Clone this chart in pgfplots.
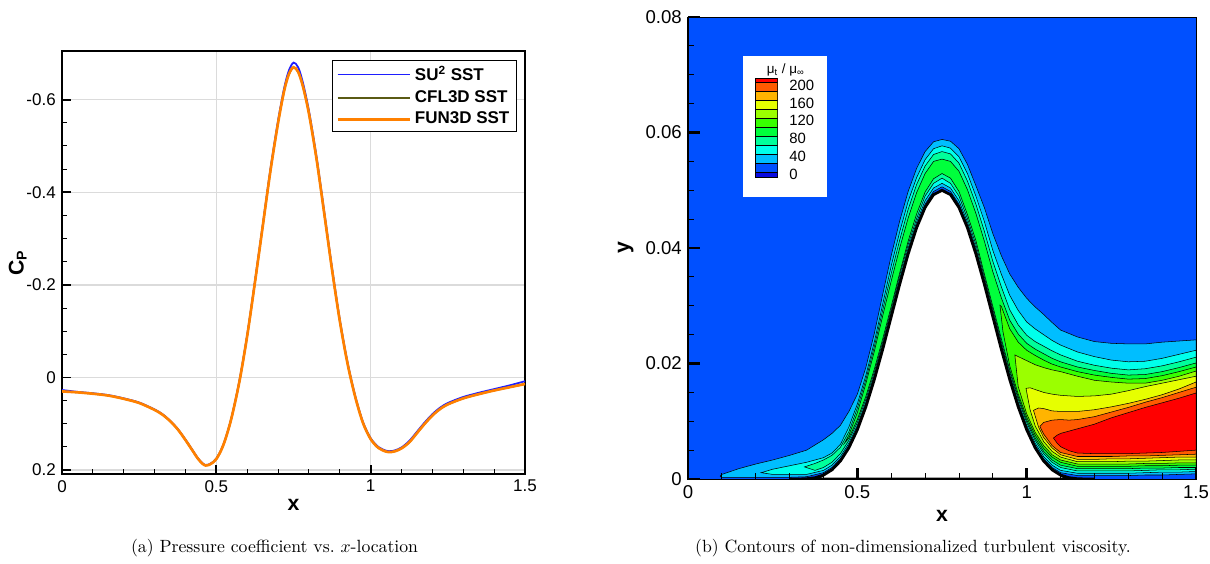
\documentclass[border=0pt]{standalone}
\usepackage{fontspec}
\usepackage{pgfplots}
\pgfplotsset{compat=1.18}
\newfontfamily\arial{Liberation Sans}
\definecolor{cpblue}{HTML}{1E1EFF}
\definecolor{cpolive}{HTML}{5A5A14}
\definecolor{cporange}{HTML}{FF8000}
\definecolor{bgblue}{HTML}{0050FF}
\definecolor{dkblue}{HTML}{0A0AE0}
\definecolor{c20}{HTML}{00BEFF}
\definecolor{c40}{HTML}{00FFEB}
\definecolor{c60}{HTML}{00FF9B}
\definecolor{c80}{HTML}{00FF3C}
\definecolor{c100}{HTML}{37FF00}
\definecolor{c120}{HTML}{9BFF00}
\definecolor{c140}{HTML}{E6FF00}
\definecolor{c160}{HTML}{FFB400}
\definecolor{c180}{HTML}{FF5A00}
\definecolor{c200}{HTML}{FF0000}
\begin{document}
\begin{tikzpicture}
\path[use as bounding box] (0,0) rectangle (683.6pt,318.1pt);
% ---------------- left: Cp ----------------
\begin{axis}[
  at={(35.03pt,50.28pt)}, anchor=south west, scale only axis,
  width=261.58pt, height=238.98pt,
  xmin=0, xmax=1.5, ymin=-0.705, ymax=0.2085, y dir=reverse,
  xtick={0,0.5,1,1.5}, xticklabels={0,0.5,1,1.5},
  ytick={-0.6,-0.4,-0.2,0,0.2}, yticklabels={-0.6,-0.4,-0.2,0,0.2},
  scaled ticks=false,
  minor x tick num=4, minor y tick num=3,
  tick align=inside, xtick pos=left, ytick pos=left,
  major tick length=5pt, minor tick length=3pt,
  every major tick/.append style={line width=1.1pt, black},
  every minor tick/.append style={line width=0.6pt, black},
  grid=major, major grid style={draw=black!14, line width=0.7pt},
  axis line style={line width=0.8pt},
  tick label style={font=\arial\fontsize{9.6}{11}\selectfont},
  xlabel={x}, ylabel={C\textsubscript{P}},
  label style={font=\arial\bfseries\fontsize{12}{13}\selectfont},
  ylabel shift=-7pt, xlabel shift=-3pt,
  legend style={at={(0.9827,0.9787)}, anchor=north east, draw=black, line width=0.6pt,
    font=\arial\bfseries\fontsize{9.6}{10}\selectfont, inner xsep=2pt, inner ysep=1pt,
    row sep=0pt, cells={anchor=west}},
  legend image code/.code={\draw[#1] (0pt,0pt) -- (41pt,0pt);},
]
\addplot[cpblue, line width=1.0pt, smooth] coordinates {
(0.000,0.027) (0.025,0.029) (0.050,0.031) (0.100,0.034) (0.150,0.038) (0.200,0.045)
(0.250,0.054) (0.300,0.069) (0.325,0.079) (0.350,0.093) (0.375,0.111) (0.400,0.134)
(0.425,0.159) (0.440,0.174) (0.455,0.185) (0.465,0.189) (0.475,0.188) (0.490,0.182)
(0.500,0.175) (0.515,0.157) (0.530,0.131) (0.550,0.084) (0.575,0.006) (0.600,-0.092)
(0.625,-0.208) (0.650,-0.328) (0.675,-0.449) (0.700,-0.555) (0.720,-0.626) (0.735,-0.663)
(0.750,-0.680) (0.765,-0.670) (0.780,-0.638) (0.800,-0.576) (0.825,-0.475) (0.850,-0.356)
(0.875,-0.236) (0.900,-0.125) (0.925,-0.033) (0.950,0.040) (0.975,0.096) (1.000,0.131)
(1.025,0.150) (1.050,0.158) (1.065,0.159) (1.080,0.157) (1.100,0.151) (1.125,0.137)
(1.150,0.117) (1.175,0.097) (1.200,0.079) (1.225,0.065) (1.250,0.055) (1.300,0.042)
(1.350,0.033) (1.400,0.025) (1.450,0.017) (1.500,0.008)};
\addlegendentry{SU\textsuperscript{2} SST}
\addplot[cpolive, line width=1.0pt, smooth] coordinates {
(0.000,0.030) (0.025,0.031) (0.050,0.032) (0.100,0.035) (0.150,0.039) (0.200,0.046)
(0.250,0.055) (0.300,0.070) (0.325,0.080) (0.350,0.094) (0.375,0.112) (0.400,0.135)
(0.425,0.160) (0.440,0.175) (0.455,0.186) (0.465,0.190) (0.475,0.189) (0.490,0.183)
(0.500,0.176) (0.515,0.158) (0.530,0.132) (0.550,0.085) (0.575,0.008) (0.600,-0.090)
(0.625,-0.205) (0.650,-0.325) (0.675,-0.445) (0.700,-0.550) (0.720,-0.620) (0.735,-0.655)
(0.750,-0.670) (0.765,-0.660) (0.780,-0.630) (0.800,-0.570) (0.825,-0.470) (0.850,-0.352)
(0.875,-0.232) (0.900,-0.122) (0.925,-0.030) (0.950,0.042) (0.975,0.098) (1.000,0.133)
(1.025,0.152) (1.050,0.160) (1.065,0.161) (1.080,0.159) (1.100,0.153) (1.125,0.140)
(1.150,0.120) (1.175,0.100) (1.200,0.082) (1.225,0.068) (1.250,0.058) (1.300,0.045)
(1.350,0.036) (1.400,0.028) (1.450,0.021) (1.500,0.014)};
\addlegendentry{CFL3D SST}
\addplot[cporange, line width=1.5pt, smooth] coordinates {
(0.000,0.030) (0.025,0.031) (0.050,0.032) (0.100,0.035) (0.150,0.039) (0.200,0.046)
(0.250,0.055) (0.300,0.070) (0.325,0.080) (0.350,0.094) (0.375,0.112) (0.400,0.135)
(0.425,0.160) (0.440,0.175) (0.455,0.186) (0.465,0.190) (0.475,0.189) (0.490,0.183)
(0.500,0.176) (0.515,0.158) (0.530,0.132) (0.550,0.085) (0.575,0.008) (0.600,-0.090)
(0.625,-0.205) (0.650,-0.325) (0.675,-0.445) (0.700,-0.550) (0.720,-0.620) (0.735,-0.655)
(0.750,-0.670) (0.765,-0.660) (0.780,-0.630) (0.800,-0.570) (0.825,-0.470) (0.850,-0.352)
(0.875,-0.232) (0.900,-0.122) (0.925,-0.030) (0.950,0.042) (0.975,0.098) (1.000,0.133)
(1.025,0.152) (1.050,0.160) (1.065,0.161) (1.080,0.159) (1.100,0.153) (1.125,0.140)
(1.150,0.120) (1.175,0.100) (1.200,0.082) (1.225,0.068) (1.250,0.058) (1.300,0.045)
(1.350,0.036) (1.400,0.028) (1.450,0.021) (1.500,0.014)};
\addlegendentry{FUN3D SST}
\end{axis}
% ---------------- right: contours ----------------
\begin{axis}[
  at={(388.70pt,47.46pt)}, anchor=south west, scale only axis,
  width=287.01pt, height=261.02pt,
  xmin=0, xmax=1.5, ymin=0, ymax=0.08,
  axis background/.style={fill=bgblue},
  axis on top,
  xtick={0,0.5,1,1.5}, xticklabels={0,0.5,1,1.5},
  ytick={0,0.02,0.04,0.06,0.08}, yticklabels={0,0.02,0.04,0.06,0.08},
  scaled ticks=false,
  minor x tick num=4, minor y tick num=3,
  tick align=inside, xtick pos=left, ytick pos=left,
  major tick length=6.5pt, minor tick length=3.6pt,
  every major tick/.append style={line width=1.6pt, black},
  every minor tick/.append style={line width=0.5pt, black},
  axis line style={line width=0.6pt},
  tick label style={font=\arial\fontsize{10.5}{12}\selectfont},
  xlabel={x}, ylabel={y},
  label style={font=\arial\bfseries\fontsize{12}{13}\selectfont},
]
% level 20
\addplot[fill=c20, draw=black, line width=0.3pt] coordinates {
(0.095,0.0005) (0.1,0.0008) (0.15,0.0018) (0.2,0.0026) (0.25,0.0033) (0.3,0.0041) (0.35,0.0050) (0.4,0.0068) (0.425,0.0079) (0.45,0.0093) (0.475,0.0117) (0.5,0.0147) (0.525,0.0193) (0.55,0.0252) (0.575,0.0320) (0.6,0.0387) (0.625,0.0447) (0.65,0.0498) (0.675,0.0538) (0.7,0.0567) (0.725,0.0584) (0.75,0.0588) (0.775,0.0585) (0.8,0.0572) (0.825,0.0545) (0.85,0.0508) (0.875,0.0470) (0.9,0.0425) (0.925,0.0387) (0.95,0.0355) (0.975,0.0332) (1,0.0313) (1.025,0.0298) (1.05,0.0285) (1.075,0.0271) (1.1,0.0258) (1.15,0.0246) (1.2,0.0238) (1.25,0.0235) (1.3,0.0234) (1.35,0.0234) (1.4,0.0237) (1.45,0.0239) (1.5,0.0241)
(1.5,0.0009) (1.45,0.0008) (1.4,0.0007) (1.35,0.0007) (1.3,0.0006) (1.25,0.0006) (1.2,0.0006) (1.15,0.0006) (1.1,0.0011) (1.075,0.0020) (1.05,0.0035) (1.025,0.0058) (1,0.0089) (0.975,0.0129) (0.95,0.0176) (0.925,0.0229) (0.9,0.0285) (0.875,0.0342) (0.85,0.0395) (0.825,0.0440) (0.8,0.0476) (0.775,0.0498) (0.75,0.0506) (0.725,0.0498) (0.7,0.0476) (0.675,0.0440) (0.65,0.0395) (0.625,0.0342) (0.6,0.0285) (0.575,0.0229) (0.55,0.0176) (0.525,0.0129) (0.5,0.0089) (0.475,0.0058) (0.45,0.0035) (0.425,0.0020) (0.4,0.0011) (0.35,0.0004) (0.3,0.0003) (0.2,0.0003) (0.1,0.0003)} -- cycle;
% level 40
\addplot[fill=c40, draw=black, line width=0.3pt] coordinates {
(0.216,0.0011) (0.25,0.0017) (0.3,0.0023) (0.35,0.0029) (0.4,0.0037) (0.425,0.0045) (0.45,0.0060) (0.475,0.0090) (0.5,0.0130) (0.525,0.0179) (0.55,0.0237) (0.575,0.0303) (0.6,0.0369) (0.625,0.0428) (0.65,0.0481) (0.675,0.0522) (0.7,0.0553) (0.725,0.0572) (0.75,0.0577) (0.775,0.0573) (0.8,0.0558) (0.825,0.0529) (0.85,0.0490) (0.875,0.0446) (0.9,0.0396) (0.925,0.0355) (0.95,0.0318) (0.975,0.0292) (1,0.0272) (1.025,0.0260) (1.05,0.0250) (1.075,0.0240) (1.1,0.0232) (1.15,0.0220) (1.2,0.0212) (1.25,0.0206) (1.3,0.0203) (1.35,0.0204) (1.4,0.0209) (1.45,0.0216) (1.5,0.0223)
(1.5,0.0013) (1.45,0.0012) (1.4,0.0012) (1.35,0.0011) (1.3,0.0010) (1.25,0.0010) (1.2,0.0010) (1.15,0.0010) (1.1,0.0015) (1.075,0.0024) (1.05,0.0039) (1.025,0.0062) (1,0.0093) (0.975,0.0133) (0.95,0.0180) (0.925,0.0233) (0.9,0.0289) (0.875,0.0345) (0.85,0.0400) (0.825,0.0445) (0.8,0.0482) (0.775,0.0504) (0.75,0.0512) (0.725,0.0504) (0.7,0.0482) (0.675,0.0445) (0.65,0.0400) (0.625,0.0347) (0.6,0.0289) (0.575,0.0233) (0.55,0.0180) (0.525,0.0133) (0.5,0.0093) (0.475,0.0062) (0.45,0.0039) (0.425,0.0024) (0.4,0.0015) (0.35,0.0008) (0.3,0.0008) (0.25,0.0008)} -- cycle;
% level 60
\addplot[fill=c60, draw=black, line width=0.3pt] coordinates {
(0.344,0.0021) (0.375,0.0027) (0.4,0.0033) (0.425,0.0041) (0.45,0.0055) (0.475,0.0082) (0.5,0.0123) (0.525,0.0172) (0.55,0.0229) (0.575,0.0293) (0.6,0.0356) (0.625,0.0414) (0.65,0.0467) (0.675,0.0510) (0.7,0.0542) (0.725,0.0562) (0.75,0.0567) (0.775,0.0563) (0.8,0.0547) (0.825,0.0516) (0.85,0.0476) (0.875,0.0429) (0.9,0.0377) (0.925,0.0333) (0.95,0.0293) (0.975,0.0267) (1,0.0249) (1.025,0.0238) (1.05,0.0230) (1.075,0.0222) (1.1,0.0215) (1.15,0.0204) (1.2,0.0197) (1.25,0.0192) (1.3,0.0189) (1.35,0.0191) (1.4,0.0196) (1.45,0.0203) (1.5,0.0211)
(1.5,0.0017) (1.45,0.0016) (1.4,0.0016) (1.35,0.0015) (1.3,0.0014) (1.25,0.0014) (1.2,0.0014) (1.15,0.0014) (1.1,0.0020) (1.075,0.0029) (1.05,0.0044) (1.025,0.0067) (1,0.0098) (0.975,0.0138) (0.95,0.0185) (0.925,0.0238) (0.9,0.0294) (0.875,0.0350) (0.85,0.0406) (0.825,0.0451) (0.8,0.0490) (0.775,0.0512) (0.75,0.0521) (0.725,0.0512) (0.7,0.0490) (0.675,0.0451) (0.65,0.0406) (0.625,0.0353) (0.6,0.0294) (0.575,0.0238) (0.55,0.0185) (0.525,0.0138) (0.5,0.0098) (0.475,0.0067) (0.45,0.0044) (0.425,0.0029) (0.4,0.0020) (0.375,0.0015)} -- cycle;
% level 80
\addplot[fill=c80, draw=black, line width=0.3pt] coordinates {
(0.462,0.0062) (0.475,0.0076) (0.5,0.0115) (0.525,0.0165) (0.55,0.0221) (0.575,0.0283) (0.6,0.0343) (0.625,0.0400) (0.65,0.0452) (0.675,0.0496) (0.7,0.0529) (0.725,0.0550) (0.75,0.0554) (0.775,0.0550) (0.8,0.0533) (0.825,0.0501) (0.85,0.0460) (0.875,0.0412) (0.9,0.0359) (0.925,0.0314) (0.95,0.0275) (0.975,0.0251) (1,0.0235) (1.025,0.0225) (1.05,0.0217) (1.075,0.0209) (1.1,0.0203) (1.15,0.0194) (1.2,0.0188) (1.25,0.0183) (1.3,0.0180) (1.35,0.0181) (1.4,0.0186) (1.45,0.0193) (1.5,0.0201)
(1.5,0.0020) (1.45,0.0020) (1.4,0.0019) (1.35,0.0019) (1.3,0.0018) (1.25,0.0018) (1.2,0.0018) (1.15,0.0018) (1.1,0.0024) (1.075,0.0033) (1.05,0.0048) (1.025,0.0071) (1,0.0102) (0.975,0.0142) (0.95,0.0189) (0.925,0.0243) (0.9,0.0299) (0.875,0.0355) (0.85,0.0413) (0.825,0.0458) (0.8,0.0498) (0.775,0.0521) (0.75,0.0529) (0.725,0.0520) (0.7,0.0497) (0.675,0.0459) (0.65,0.0412) (0.625,0.0357) (0.6,0.0299) (0.575,0.0243) (0.55,0.0190) (0.525,0.0143) (0.5,0.0103) (0.475,0.0071)} -- cycle;
% level 100
\addplot[fill=c100, draw=black, line width=0.3pt] coordinates {
(0.921,0.0301) (0.925,0.0299) (0.95,0.0260) (0.975,0.0237) (1,0.0223) (1.025,0.0214) (1.05,0.0206) (1.075,0.0199) (1.1,0.0194) (1.15,0.0186) (1.2,0.0180) (1.25,0.0176) (1.3,0.0173) (1.35,0.0174) (1.4,0.0179) (1.45,0.0186) (1.5,0.0194)
(1.5,0.0024) (1.45,0.0024) (1.4,0.0023) (1.35,0.0023) (1.3,0.0022) (1.25,0.0022) (1.2,0.0022) (1.15,0.0022) (1.1,0.0029) (1.075,0.0038) (1.05,0.0053) (1.025,0.0076) (1,0.0107) (0.975,0.0147) (0.95,0.0196) (0.93,0.0255)} -- cycle;
% level 120
\addplot[fill=c120, draw=black, line width=0.3pt] coordinates {
(0.965,0.0215) (0.975,0.0212) (1,0.0205) (1.025,0.0198) (1.05,0.0193) (1.075,0.0189) (1.1,0.0186) (1.15,0.0178) (1.2,0.0171) (1.25,0.0168) (1.3,0.0166) (1.35,0.0166) (1.4,0.0171) (1.45,0.0178) (1.5,0.0187)
(1.5,0.0028) (1.45,0.0028) (1.4,0.0027) (1.35,0.0027) (1.3,0.0026) (1.25,0.0026) (1.2,0.0026) (1.15,0.0026) (1.1,0.0033) (1.075,0.0042) (1.05,0.0058) (1.025,0.0081) (1,0.0113) (0.975,0.0160)} -- cycle;
% level 140
\addplot[fill=c140, draw=black, line width=0.3pt] coordinates {
(0.998,0.0157) (1.01,0.0158) (1.025,0.0155) (1.05,0.0150) (1.075,0.0147) (1.1,0.0145) (1.15,0.0143) (1.2,0.0144) (1.25,0.0147) (1.3,0.0153) (1.35,0.0160) (1.4,0.0166) (1.45,0.0172) (1.5,0.0178)
(1.5,0.0033) (1.45,0.0033) (1.4,0.0032) (1.35,0.0031) (1.3,0.0031) (1.25,0.0030) (1.2,0.0030) (1.15,0.0030) (1.1,0.0038) (1.075,0.0048) (1.05,0.0065) (1.025,0.0092) (1.01,0.0120)} -- cycle;
% level 160
\addplot[fill=c160, draw=black, line width=0.3pt] coordinates {
(1.02,0.0119) (1.035,0.0123) (1.05,0.0122) (1.075,0.0118) (1.1,0.0117) (1.15,0.0117) (1.2,0.0120) (1.25,0.0125) (1.3,0.0131) (1.35,0.0138) (1.4,0.0146) (1.45,0.0156) (1.5,0.0168)
(1.5,0.0038) (1.45,0.0038) (1.4,0.0037) (1.35,0.0036) (1.3,0.0035) (1.25,0.0035) (1.2,0.0034) (1.15,0.0034) (1.1,0.0042) (1.075,0.0054) (1.05,0.0072) (1.035,0.0090)} -- cycle;
% level 180
\addplot[fill=c180, draw=black, line width=0.3pt] coordinates {
(1.039,0.0091) (1.05,0.0098) (1.075,0.0102) (1.1,0.0103) (1.125,0.0102) (1.15,0.0103) (1.2,0.0108) (1.25,0.0116) (1.3,0.0124) (1.35,0.0133) (1.4,0.0141) (1.45,0.0150) (1.5,0.0159)
(1.5,0.0043) (1.45,0.0042) (1.4,0.0041) (1.35,0.0040) (1.3,0.0040) (1.25,0.0039) (1.2,0.0039) (1.15,0.0039) (1.1,0.0046) (1.075,0.0058) (1.05,0.0078)} -- cycle;
% level 200
\addplot[fill=c200, draw=black, line width=0.3pt] coordinates {
(1.079,0.0071) (1.09,0.0076) (1.1,0.0079) (1.125,0.0083) (1.15,0.0087) (1.2,0.0095) (1.25,0.0106) (1.3,0.0115) (1.35,0.0124) (1.4,0.0132) (1.45,0.0140) (1.5,0.0149)
(1.5,0.0050) (1.45,0.0048) (1.4,0.0046) (1.35,0.0045) (1.3,0.0044) (1.25,0.0044) (1.2,0.0044) (1.15,0.0045) (1.125,0.0049) (1.1,0.0056) (1.09,0.0062)} -- cycle;
% bump (solid wall)
\addplot[fill=white, draw=black, line width=1.6pt] coordinates {
(0.3,0) (0.325,0.000003) (0.35,0.0000454) (0.375,0.000224) (0.4,0.000684) (0.425,0.001595) (0.45,0.003125) (0.475,0.005412) (0.5,0.008536) (0.525,0.0125) (0.55,0.017218) (0.575,0.022512) (0.6,0.028125) (0.625,0.033735) (0.65,0.038987) (0.675,0.043526) (0.7,0.04703) (0.725,0.049243) (0.75,0.05) (0.775,0.049243) (0.8,0.04703) (0.825,0.043526) (0.85,0.038987) (0.875,0.033735) (0.9,0.028125) (0.925,0.022512) (0.95,0.017218) (0.975,0.0125) (1,0.008536) (1.025,0.005412) (1.05,0.003125) (1.075,0.001595) (1.1,0.000684) (1.125,0.000224) (1.15,0.0000454) (1.175,0.000003) (1.2,0)} -- cycle;
\end{axis}
% colour legend box
\fill[white] (419.6pt,206.95pt) rectangle (467.4pt,286.44pt);
\node[font=\arial\fontsize{7.6}{8}\selectfont] at (444.0pt,278.4pt) {μ\textsubscript{t} / μ\textsubscript{∞}};
\begin{axis}[
  at={(426.55pt,217.91pt)}, anchor=south west, scale only axis,
  width=12.82pt, height=55.93pt,
  xmin=0, xmax=1, ymin=-12, ymax=209,
  xtick=\empty, ytick={0,40,80,120,160,200}, yticklabels={0,40,80,120,160,200},
  yticklabel pos=right, ytick style={draw=none}, major tick length=0pt,
  tick label style={font=\arial\fontsize{8.4}{9}\selectfont},
  yticklabel style={anchor=west, xshift=3pt, yshift=-1.5pt},
  axis line style={line width=0.5pt},
]
\addplot[fill=dkblue, draw=black, line width=0.3pt] coordinates {(0,-12) (1,-12) (1,0) (0,0)} -- cycle;
\addplot[fill=bgblue, draw=black, line width=0.3pt] coordinates {(0,0) (1,0) (1,20) (0,20)} -- cycle;
\addplot[fill=c20, draw=black, line width=0.3pt] coordinates {(0,20) (1,20) (1,40) (0,40)} -- cycle;
\addplot[fill=c40, draw=black, line width=0.3pt] coordinates {(0,40) (1,40) (1,60) (0,60)} -- cycle;
\addplot[fill=c60, draw=black, line width=0.3pt] coordinates {(0,60) (1,60) (1,80) (0,80)} -- cycle;
\addplot[fill=c80, draw=black, line width=0.3pt] coordinates {(0,80) (1,80) (1,100) (0,100)} -- cycle;
\addplot[fill=c100, draw=black, line width=0.3pt] coordinates {(0,100) (1,100) (1,120) (0,120)} -- cycle;
\addplot[fill=c120, draw=black, line width=0.3pt] coordinates {(0,120) (1,120) (1,140) (0,140)} -- cycle;
\addplot[fill=c140, draw=black, line width=0.3pt] coordinates {(0,140) (1,140) (1,160) (0,160)} -- cycle;
\addplot[fill=c160, draw=black, line width=0.3pt] coordinates {(0,160) (1,160) (1,180) (0,180)} -- cycle;
\addplot[fill=c180, draw=black, line width=0.3pt] coordinates {(0,180) (1,180) (1,200) (0,200)} -- cycle;
\addplot[fill=c200, draw=black, line width=0.3pt] coordinates {(0,200) (1,200) (1,209) (0,209)} -- cycle;
\end{axis}
% captions
\node[anchor=base] at (155.1pt,6.2pt) {(a) Pressure coefficient vs.\ $x$-location};
\node[anchor=base] at (515.8pt,6.2pt) {(b) Contours of non-dimensionalized turbulent viscosity.};
\end{tikzpicture}
\end{document}
